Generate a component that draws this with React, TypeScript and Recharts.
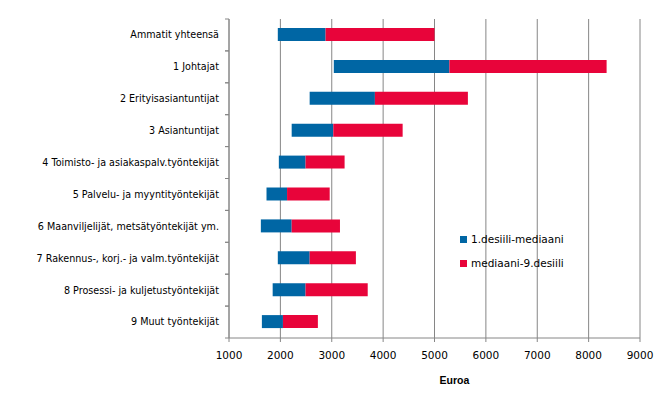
import React from 'react';
import { BarChart, Bar, XAxis, YAxis, CartesianGrid, Legend } from 'recharts';

const categories = [
  'Ammatit yhteensä',
  '1 Johtajat',
  '2 Erityisasiantuntijat',
  '3 Asiantuntijat',
  '4 Toimisto- ja asiakaspalv.työntekijät',
  '5 Palvelu- ja myyntityöntekijät',
  '6 Maanviljelijät, metsätyöntekijät ym.',
  '7 Rakennus-, korj.- ja valm.työntekijät',
  '8 Prosessi- ja kuljetustyöntekijät',
  '9 Muut työntekijät',
];
const decile1 = [1950, 3040, 2570, 2220, 1970, 1730, 1620, 1950, 1850, 1640];
const median = [2880, 5290, 3840, 3030, 2490, 2130, 2220, 2570, 2490, 2050];
const decile9 = [5000, 8350, 5650, 4380, 3250, 2960, 3160, 3470, 3700, 2730];
const xTicks = [1000, 2000, 3000, 4000, 5000, 6000, 7000, 8000, 9000];
const seriesNames = ['1.desiili-mediaani', 'mediaani-9.desiili'];
const colors = ['#0066A4', '#E8043A'];
const axisLabel = 'Euroa';

const data = categories.map((name, i) => ({
  name,
  base: decile1[i],
  low: median[i] - decile1[i],
  high: decile9[i] - median[i],
}));

const GREY = '#868686';
const FONT = 'DejaVu Sans';

const CategoryTick = (props: any) => {
  const { x, y, payload } = props;
  const half = payload && payload.offset ? payload.offset : 16;
  return (
    <g>
      <text x={x - 10} y={y} dy="0.35em" textAnchor="end" fontSize={9.6} fontFamily={FONT} fill="#000">
        {payload.value}
      </text>
      <line x1={x - 4} x2={x} y1={y - half} y2={y - half} stroke={GREY} />
      <line x1={x - 4} x2={x} y1={y + half} y2={y + half} stroke={GREY} />
    </g>
  );
};

const renderLegend = () => (
  <div style={{ fontFamily: FONT, fontSize: 10.5, color: '#000' }}>
    {seriesNames.map((n, i) => (
      <div key={n} style={{ display: 'flex', alignItems: 'center', height: 24 }}>
        <span style={{ display: 'inline-block', width: 7, height: 7, background: colors[i], marginRight: 4 }} />
        <span>{n}</span>
      </div>
    ))}
  </div>
);

export default function App() {
  return (
    <div style={{ position: 'absolute', left: 0, top: 0, width: 667, height: 399, background: '#fff' }}>
      <BarChart
        width={667}
        height={399}
        data={data}
        layout="vertical"
        margin={{ top: 19, right: 27, bottom: 13, left: 0 }}
        barSize={13}
      >
        <CartesianGrid horizontal={false} vertical={true} stroke={GREY} />
        <XAxis
          type="number"
          domain={[1000, 9000]}
          ticks={xTicks}
          allowDataOverflow
          height={48}
          tickSize={4}
          tickMargin={10}
          stroke={GREY}
          tick={{ fill: '#000', fontSize: 10.5, fontFamily: FONT }}
          label={{ value: axisLabel, position: 'insideBottom', offset: 2, dx: 20, fill: '#000', fontSize: 10.5, fontWeight: 'bold', fontFamily: 'Liberation Sans' }}
        />
        <YAxis
          type="category"
          dataKey="name"
          width={229}
          tickSize={0}
          tickMargin={0}
          stroke={GREY}
          tick={<CategoryTick />}
          interval={0}
        />
        <Legend
          layout="vertical"
          align="center"
          verticalAlign="middle"
          content={renderLegend}
          wrapperStyle={{ left: 460, top: 227, width: 140 }}
        />
        <Bar dataKey="base" stackId="a" fill="transparent" isAnimationActive={false} legendType="none" />
        <Bar dataKey="low" stackId="a" fill={colors[0]} name={seriesNames[0]} isAnimationActive={false} />
        <Bar dataKey="high" stackId="a" fill={colors[1]} name={seriesNames[1]} isAnimationActive={false} />
      </BarChart>
    </div>
  );
}
